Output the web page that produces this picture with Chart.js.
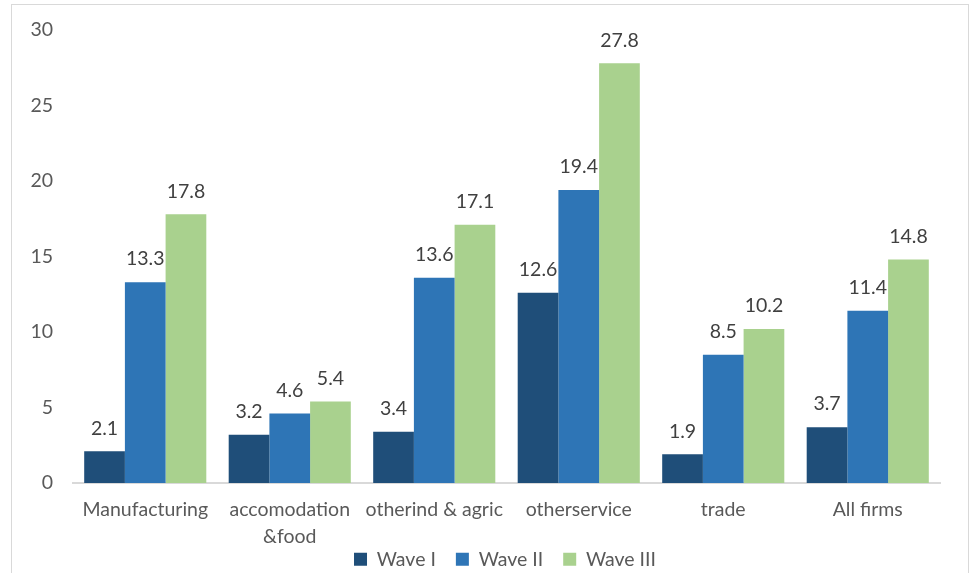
<!DOCTYPE html>
<html>
<head>
<meta charset="utf-8">
<script src="https://cdn.jsdelivr.net/npm/chart.js@4.4.1/dist/chart.umd.min.js"></script>
<style>
  html, body { margin: 0; padding: 0; background: #fff; }
  #wrap { position: relative; width: 971px; height: 573px; overflow: hidden; }
  #frame { position: absolute; left: 11px; top: 4px; width: 958px; height: 580px;
           border: 1px solid #d9d9d9; box-sizing: border-box; }
  canvas { position: absolute; left: 0; top: 0; }
</style>
</head>
<body>
<div id="wrap">
  <div id="frame"></div>
  <canvas id="c" width="971" height="573"></canvas>
</div>
<script>
const categories = ['Manufacturing', ['accomodation', '&food'], 'otherind & agric', 'otherservice', 'trade', 'All firms'];
const waveI   = [2.1, 3.2, 3.4, 12.6, 1.9, 3.7];
const waveII  = [13.3, 4.6, 13.6, 19.4, 8.5, 11.4];
const waveIII = [17.8, 5.4, 17.1, 27.8, 10.2, 14.8];
const yTicks  = [0, 5, 10, 15, 20, 25, 30];

const FONT = "Lato, 'Open Sans', sans-serif";
const FS = 19.5;

// Writes each bar's value just above it
const valueLabels = {
  id: 'valueLabels',
  afterDatasetsDraw(chart) {
    const ctx = chart.ctx;
    ctx.save();
    ctx.font = FS + 'px ' + FONT;
    ctx.fillStyle = '#404040';
    ctx.textAlign = 'center';
    ctx.textBaseline = 'middle';
    chart.data.datasets.forEach((ds, i) => {
      chart.getDatasetMeta(i).data.forEach((bar, j) => {
        ctx.fillText(ds.data[j].toFixed(1), bar.x, bar.y - 23);
      });
    });
    ctx.restore();
  }
};

// Lets the two-line category labels run below the axis box, and nudges the legend
const placement = {
  id: 'placement',
  afterLayout(chart) {
    chart.scales.x.bottom = chart.height;
    const lg = chart.legend;
    lg.left += 35; lg.right += 35;
    lg.top += 6; lg.bottom += 6;
  }
};

new Chart(document.getElementById('c'), {
  type: 'bar',
  data: {
    labels: categories,
    datasets: [
      { label: 'Wave I',   data: waveI,   backgroundColor: '#1F4E79' },
      { label: 'Wave II',  data: waveII,  backgroundColor: '#2E75B6' },
      { label: 'Wave III', data: waveIII, backgroundColor: '#A9D18E' }
    ]
  },
  options: {
    responsive: false,
    animation: false,
    layout: { padding: { left: 0, right: 31, top: 30, bottom: 0 } },
    datasets: { bar: { categoryPercentage: 0.845, barPercentage: 1.0 } },
    plugins: {
      tooltip: { enabled: false },
      legend: {
        position: 'bottom',
        labels: {
          font: { family: FONT, size: FS },
          color: '#595959',
          boxWidth: 13,
          boxHeight: 13,
          padding: 20
        }
      }
    },
    scales: {
      x: {
        grid: { display: false },
        border: { color: '#d9d9d9', width: 2 },
        ticks: {
          font: { family: FONT, size: FS, lineHeight: 1.35 },
          color: '#595959',
          padding: 6,
          maxRotation: 0,
          autoSkip: false
        },
        afterFit(s) { s.height = 40.5; }
      },
      y: {
        min: 0,
        max: 30,
        afterBuildTicks(s) { s.ticks = yTicks.map(v => ({ value: v })); },
        grid: { display: false },
        border: { display: false },
        ticks: {
          font: { family: FONT, size: FS },
          color: '#595959',
          padding: 12
        },
        afterFit(s) { s.width = 73; }
      }
    }
  },
  plugins: [valueLabels, placement]
});
</script>
</body>
</html>
